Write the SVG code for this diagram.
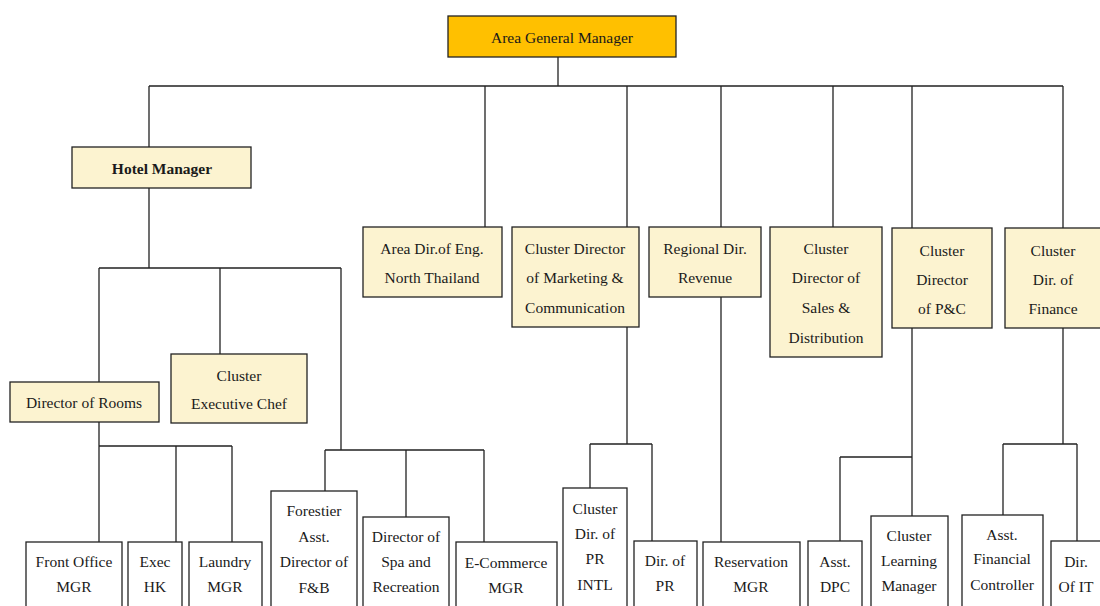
<svg xmlns="http://www.w3.org/2000/svg" width="1100" height="606" viewBox="0 0 1100 606">
<style>
.box{fill:#FCF3D0;stroke:#222;stroke-width:1.3}
.top{fill:#FFC000;stroke:#222;stroke-width:1.3}
.leaf{fill:#fff;stroke:#222;stroke-width:1.3}
text{font-family:"Liberation Serif","Times New Roman",serif;font-size:15.5px;fill:#1a1a1a;text-anchor:middle;dominant-baseline:central}
.b{font-weight:bold}
#connectors path{fill:none;stroke:#222;stroke-width:1.3}
</style>
<rect width="1100" height="606" fill="#fff"/>
<g id="connectors">
<path d="M558 57V86M149 86H1063M149 86V147M485 86V227M627 86V227M721 86V227M833 86V227M912 86V228M1063 86V228"/>
<path d="M149 188V268M99 268H341M99 268V382M220 268V354M341 268V450"/>
<path d="M99 422V542M99 446H232M176 446V542M232 446V542"/>
<path d="M325 450H484M325 450V491M406 450V517M484 450V542"/>
<path d="M627 327V444M590 444H652M590 444V488M652 444V541"/>
<path d="M721 297V542"/>
<path d="M912 328V516M840 457H912M840 457V541"/>
<path d="M1063 328V444M1003 444H1077M1003 444V515M1077 444V541"/>
</g>
<g id="agm"><rect class="top" x="448" y="16" width="228" height="41"/><text x="562" y="37">Area General Manager</text></g>
<g id="hotel-manager"><rect class="box" x="72" y="147" width="179" height="41"/><text class="b" x="162" y="168">Hotel Manager</text></g>
<g id="area-dir-eng"><rect class="box" x="363" y="227" width="139" height="70"/><text x="432" y="248">Area Dir.of Eng.</text><text x="432" y="277">North Thailand</text></g>
<g id="cluster-dir-marketing"><rect class="box" x="512" y="227" width="127" height="100"/><text x="575" y="248">Cluster Director</text><text x="575" y="277">of Marketing  &amp;</text><text x="575" y="307">Communication</text></g>
<g id="regional-dir-revenue"><rect class="box" x="649" y="227" width="112" height="70"/><text x="705" y="248">Regional  Dir.</text><text x="705" y="277">Revenue</text></g>
<g id="cluster-dir-sales"><rect class="box" x="770" y="227" width="112" height="130"/><text x="826" y="248">Cluster</text><text x="826" y="277">Director of</text><text x="826" y="307">Sales  &amp;</text><text x="826" y="337">Distribution</text></g>
<g id="cluster-dir-pc"><rect class="box" x="892" y="228" width="100" height="100"/><text x="942" y="250">Cluster</text><text x="942" y="279">Director</text><text x="942" y="308">of P&amp;C</text></g>
<g id="cluster-dir-finance"><rect class="box" x="1005" y="228" width="100" height="100"/><text x="1053" y="250">Cluster</text><text x="1053" y="279">Dir. of</text><text x="1053" y="308">Finance</text></g>
<g id="director-of-rooms"><rect class="box" x="10" y="382" width="149" height="40"/><text x="84" y="402">Director of Rooms</text></g>
<g id="cluster-exec-chef"><rect class="box" x="171" y="354" width="136" height="69"/><text x="239" y="375">Cluster</text><text x="239" y="403">Executive  Chef</text></g>
<g id="front-office"><rect class="leaf" x="26" y="542" width="96" height="70"/><text x="74" y="561">Front Office</text><text x="74" y="586">MGR</text></g>
<g id="exec-hk"><rect class="leaf" x="128" y="542" width="54" height="70"/><text x="155" y="561">Exec</text><text x="155" y="586">HK</text></g>
<g id="laundry"><rect class="leaf" x="189" y="542" width="73" height="70"/><text x="225" y="561">Laundry</text><text x="225" y="586">MGR</text></g>
<g id="forestier"><rect class="leaf" x="271" y="491" width="86" height="121"/><text x="314" y="510">Forestier</text><text x="314" y="536">Asst.</text><text x="314" y="561">Director of</text><text x="314" y="587">F&amp;B</text></g>
<g id="spa"><rect class="leaf" x="363" y="517" width="86" height="95"/><text x="406" y="536">Director of</text><text x="406" y="561">Spa and</text><text x="406" y="586">Recreation</text></g>
<g id="ecommerce"><rect class="leaf" x="456" y="542" width="101" height="70"/><text x="506" y="562">E-Commerce</text><text x="506" y="587">MGR</text></g>
<g id="cluster-dir-pr-intl"><rect class="leaf" x="563" y="488" width="64" height="124"/><text x="595" y="508">Cluster</text><text x="595" y="533">Dir. of</text><text x="595" y="558">PR</text><text x="595" y="584">INTL</text></g>
<g id="dir-of-pr"><rect class="leaf" x="634" y="541" width="63" height="71"/><text x="665" y="560">Dir. of</text><text x="665" y="585">PR</text></g>
<g id="reservation"><rect class="leaf" x="703" y="542" width="97" height="70"/><text x="751" y="561">Reservation</text><text x="751" y="586">MGR</text></g>
<g id="asst-dpc"><rect class="leaf" x="808" y="541" width="54" height="71"/><text x="835" y="561">Asst.</text><text x="835" y="586">DPC</text></g>
<g id="cluster-learning"><rect class="leaf" x="871" y="516" width="77" height="96"/><text x="909" y="535">Cluster</text><text x="909" y="560">Learning</text><text x="909" y="585">Manager</text></g>
<g id="asst-fin-controller"><rect class="leaf" x="962" y="515" width="81" height="97"/><text x="1002" y="534">Asst.</text><text x="1002" y="558">Financial</text><text x="1002" y="584">Controller</text></g>
<g id="dir-of-it"><rect class="leaf" x="1051" y="541" width="60" height="71"/><text x="1076" y="561">Dir.</text><text x="1076" y="586">Of  IT</text></g>
</svg>
